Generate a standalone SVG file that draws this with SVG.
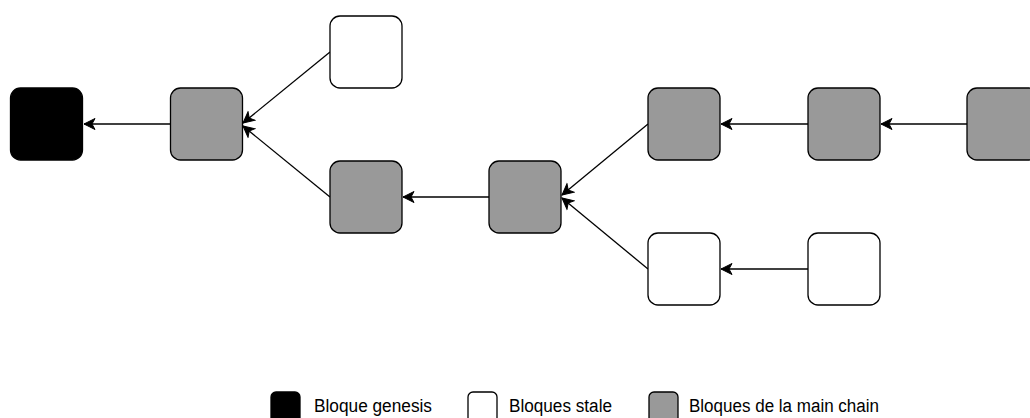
<svg xmlns="http://www.w3.org/2000/svg" width="1030" height="418" viewBox="0 0 1030 418">
  <style>
    .blk { stroke: #000; stroke-width: 1.3; }
    .genesis { fill: #000000; }
    .stale { fill: #ffffff; }
    .main { fill: #999999; }
    .edge { fill: none; stroke: #000; stroke-width: 1.3; }
    .lbl { font-family: "Liberation Sans", Arial, sans-serif; font-size: 18px; fill: #000; }
  </style>
  <defs>
    <marker id="arrow" viewBox="-12 -7 14 14" refX="0" refY="0" markerWidth="14" markerHeight="14" markerUnits="userSpaceOnUse" orient="auto">
      <path d="M0,0 L-11,-5.5 L-8,0 L-11,5.5 Z" fill="#000" stroke="#000" stroke-width="1"/>
    </marker>
  </defs>

  <!-- connectors: each block points back to its parent -->
  <g id="connectors">
    <line class="edge" x1="170" y1="124" x2="84" y2="124" marker-end="url(#arrow)"/>
    <line class="edge" x1="330" y1="52" x2="243" y2="123" marker-end="url(#arrow)"/>
    <line class="edge" x1="330" y1="197" x2="243" y2="126" marker-end="url(#arrow)"/>
    <line class="edge" x1="489" y1="197" x2="403" y2="197" marker-end="url(#arrow)"/>
    <line class="edge" x1="648" y1="124" x2="562" y2="195" marker-end="url(#arrow)"/>
    <line class="edge" x1="648" y1="269" x2="562" y2="198" marker-end="url(#arrow)"/>
    <line class="edge" x1="808" y1="124" x2="721" y2="124" marker-end="url(#arrow)"/>
    <line class="edge" x1="967" y1="124" x2="881" y2="124" marker-end="url(#arrow)"/>
    <line class="edge" x1="808" y1="269" x2="721" y2="269" marker-end="url(#arrow)"/>
  </g>

  <!-- blocks -->
  <g id="genesis"><rect class="blk genesis" x="10.5" y="88" width="72" height="72" rx="10"/></g>
  <g id="main1"><rect class="blk main" x="170.5" y="88" width="72" height="72" rx="10"/></g>
  <g id="stale1"><rect class="blk stale" x="330" y="16" width="72" height="72" rx="10"/></g>
  <g id="main2"><rect class="blk main" x="330" y="161" width="72" height="72" rx="10"/></g>
  <g id="main3"><rect class="blk main" x="489" y="161" width="72" height="72" rx="10"/></g>
  <g id="main4"><rect class="blk main" x="648" y="88" width="72" height="72" rx="10"/></g>
  <g id="main5"><rect class="blk main" x="808" y="88" width="72" height="72" rx="10"/></g>
  <g id="main6"><rect class="blk main" x="967" y="88" width="72" height="72" rx="10"/></g>
  <g id="stale2"><rect class="blk stale" x="648" y="233" width="72" height="72" rx="10"/></g>
  <g id="stale3"><rect class="blk stale" x="808" y="233" width="72" height="72" rx="10"/></g>

  <!-- legend -->
  <g id="legend">
    <rect class="blk genesis" x="271" y="392" width="29" height="32" rx="5"/>
    <text class="lbl" x="314" y="412" textLength="118" lengthAdjust="spacingAndGlyphs">Bloque genesis</text>
    <rect class="blk stale" x="468" y="392" width="29" height="32" rx="5"/>
    <text class="lbl" x="509" y="412" textLength="103" lengthAdjust="spacingAndGlyphs">Bloques stale</text>
    <rect class="blk main" x="649" y="392" width="29" height="32" rx="5"/>
    <text class="lbl" x="689" y="412" textLength="190" lengthAdjust="spacingAndGlyphs">Bloques de la main chain</text>
  </g>
</svg>
